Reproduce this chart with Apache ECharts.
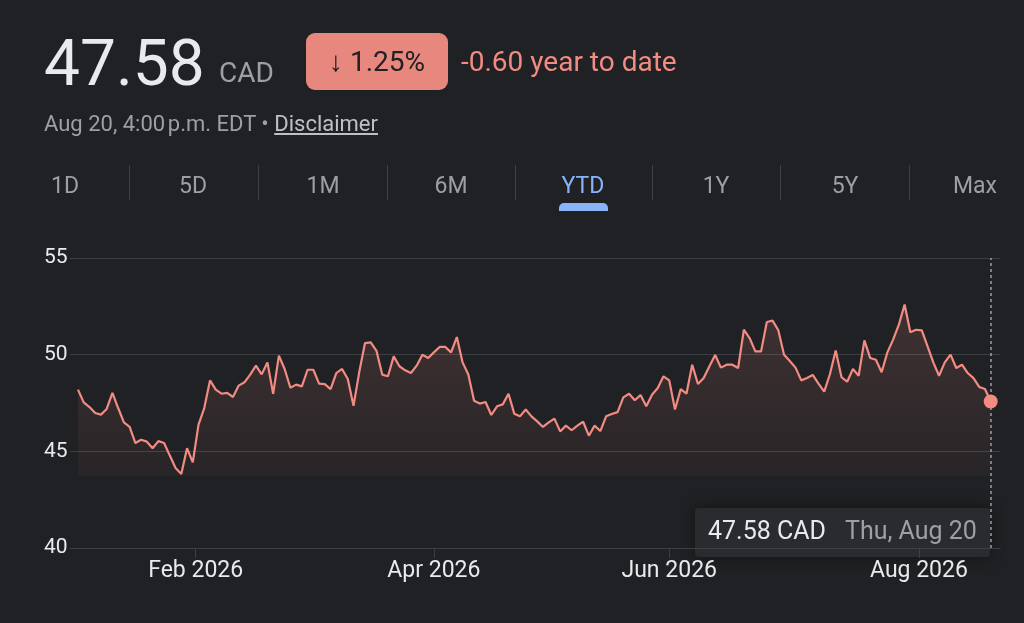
<!DOCTYPE html>
<html><head><meta charset="utf-8">
<script src="https://cdn.jsdelivr.net/npm/echarts@6/dist/echarts.min.js"></script>
<style>
html,body{margin:0;padding:0;background:#202124;width:1024px;height:623px;overflow:hidden;font-family:Roboto,"Noto Sans",sans-serif;}
#chart{position:absolute;left:0;top:0;width:1024px;height:623px;}
.t{position:absolute;white-space:nowrap;line-height:1;}
.tab{position:absolute;width:100px;text-align:center;font-size:23px;line-height:1;color:#9aa0a6;top:174px;}
.sep{position:absolute;top:165px;width:1px;height:35px;background:#3c4043;}
</style></head><body>
<div id="chart"></div>
<div class="t" style="left:44px;top:32px;font-size:64px;color:#e8eaed;">47.58</div>
<div class="t" style="left:219px;top:59px;font-size:28px;color:#9aa0a6;">CAD</div>
<div style="position:absolute;left:306px;top:33px;width:142px;height:57px;border-radius:9px;background:#e8877d;display:flex;align-items:center;justify-content:center;font-size:28px;line-height:1;color:#202124;">↓ 1.25%</div>
<div class="t" style="left:461px;top:48px;font-size:28px;color:#f28b82;">-0.60 year to date</div>
<div class="t" style="left:44px;top:113px;font-size:22px;color:#9aa0a6;">Aug 20, 4:00&#8239;p.m. EDT • <span style="text-decoration:underline;color:#bdc1c6;">Disclaimer</span></div>
<div id="tabs"></div>
<div style="position:absolute;left:559px;top:203px;width:49px;height:8px;background:#8ab4f8;border-radius:5px 5px 0 0;"></div>
<script>
// ---- data ----
const startDate = '2026-01-02';
const endDate = '2026-08-20';
const holidays = ['2026-01-01','2026-02-16','2026-04-03','2026-05-18','2026-07-01','2026-08-03'];
const prices = [
48.19,47.53,47.29,46.98,46.90,47.19,48.02,47.24,46.50,46.26,
45.43,45.60,45.50,45.16,45.53,45.43,44.78,44.14,43.83,45.16,
44.43,46.38,47.24,48.67,48.19,47.98,48.02,47.81,48.40,48.57,
48.97,49.43,48.98,49.60,47.98,49.95,49.26,48.29,48.45,48.36,
49.22,49.22,48.50,48.48,48.22,49.05,49.26,48.74,47.36,49.10,
50.60,50.64,50.20,48.97,48.88,49.91,49.40,49.19,49.05,49.43,
50.00,49.83,50.12,50.40,50.40,50.12,50.91,49.60,48.97,47.62,
47.47,47.55,46.88,47.33,47.43,47.98,46.95,46.81,47.16,46.81,
46.55,46.26,46.50,46.69,46.03,46.33,46.09,46.33,46.53,45.81,
46.33,46.05,46.81,46.93,47.03,47.79,47.98,47.64,47.91,47.33,
47.93,48.28,48.88,48.67,47.16,48.22,47.98,49.48,48.48,48.79,
49.40,49.98,49.33,49.48,49.48,49.31,51.29,50.86,50.17,50.17,
51.69,51.76,51.26,50.00,49.67,49.33,48.67,48.79,48.95,48.50,
48.09,49.00,50.21,48.84,48.60,49.26,48.91,50.74,49.83,49.74,
49.09,50.12,50.78,51.55,52.59,51.16,51.29,51.26,50.43,49.60,
48.91,49.60,50.00,49.31,49.48,49.05,48.79,48.33,48.22,47.58
];
const tickMonths = ['2026-02','2026-04','2026-06','2026-08'];
const tickLabels = ['Feb 2026','Apr 2026','Jun 2026','Aug 2026'];
const yTicks = [40,45,50,55];
const tabLabels = ['1D','5D','1M','6M','YTD','1Y','5Y','Max'];
const tabCenters = [65,193,323,451,583,716,845,975];
const tabSeps = [129,258,387,515,652,780,909];
const activeTab = 'YTD';

// ---- tabs ----
const tabsEl = document.getElementById('tabs');
tabLabels.forEach((l,i)=>{
  const d=document.createElement('div'); d.className='tab'; d.textContent=l;
  d.style.left=(tabCenters[i]-50)+'px';
  if(l===activeTab) d.style.color='#8ab4f8';
  tabsEl.appendChild(d);
});
tabSeps.forEach(x=>{const s=document.createElement('div'); s.className='sep'; s.style.left=x+'px'; tabsEl.appendChild(s);});

// ---- categories (trading days) ----
function tradingDays(s,e,hol){
  const out=[]; let d=new Date(s+'T12:00:00Z'); const end=new Date(e+'T12:00:00Z');
  while(d<=end){const wd=d.getUTCDay(); const iso=d.toISOString().slice(0,10);
    if(wd!==0&&wd!==6&&!hol.includes(iso)) out.push(iso);
    d=new Date(d.getTime()+86400000);}
  return out;
}
const dates = tradingDays(startDate,endDate,holidays);
const seriesData = prices.map((v,i)=>[i,v]);
const tickPos = tickMonths.map(m=>{const first=m+'-01'; const idx=dates.findIndex(d=>d>=first); return dates[idx]===first?idx:idx-0.5;});
const lastIdx = prices.length-1;
const lastPrice = prices[lastIdx];
const minPrice = Math.min(...prices);
const lastDateStr = new Date(dates[Math.min(lastIdx,dates.length-1)]+'T12:00:00Z').toLocaleDateString('en-US',{weekday:'short',month:'short',day:'numeric',timeZone:'UTC'});

const chart = echarts.init(document.getElementById('chart'),null,{renderer:'canvas'});
chart.setOption({
  backgroundColor:'#202124',
  animation:false,
  grid:{left:70,right:24,top:258,bottom:75},
  xAxis:{
    type:'value', min:-1.39, max:lastIdx+1.62,
    splitLine:{show:false},
    axisLine:{show:true,lineStyle:{color:'#3c4043',width:1}},
    axisTick:{show:true,customValues:tickPos,length:10,lineStyle:{color:'#3c4043'}},
    axisLabel:{customValues:tickPos,color:'#e8eaed',fontSize:23,fontFamily:'Roboto',margin:12,
      formatter:(v)=>{const k=tickPos.findIndex(p=>Math.abs(p-v)<1e-6); return k>=0?tickLabels[k]:'';}}
  },
  yAxis:{
    type:'value', min:yTicks[0], max:yTicks[yTicks.length-1], interval:5,
    axisLine:{show:false}, axisTick:{show:false},
    axisLabel:{color:'#e8eaed',fontSize:21,fontFamily:'Roboto',align:'left',margin:26},
    splitLine:{lineStyle:{color:'#3c4043',width:1}}
  },
  series:[{
    type:'line', data:seriesData, showSymbol:false, silent:true,
    lineStyle:{color:'#f28b82',width:2.2},
    areaStyle:{origin:minPrice-0.1,color:new echarts.graphic.LinearGradient(0,0,0,1,[
      {offset:0,color:'rgba(242,139,130,0.22)'},{offset:1,color:'rgba(242,139,130,0.05)'}])},
    markLine:{silent:true,symbol:['none','none'],label:{show:false},
      lineStyle:{color:'#9aa0a6',type:[3,3],width:1.5},
      data:[{xAxis:lastIdx}]},
    markPoint:{silent:true,symbol:'circle',symbolSize:14,itemStyle:{color:'#f28b82'},label:{show:false},
      data:[{coord:[lastIdx,lastPrice]}]}
  }],
  graphic:[{
    type:'group', left:695, top:508, z:100,
    children:[
      {type:'rect',shape:{x:0,y:0,width:295,height:49,r:4},
        style:{fill:'#2a2b2f',shadowBlur:14,shadowColor:'rgba(0,0,0,0.45)'}},
      {type:'text',x:13,y:25,style:{text:lastPrice.toFixed(2)+' CAD',fill:'#e8eaed',font:'25px Roboto',verticalAlign:'middle'}},
      {type:'text',x:150,y:25,style:{text:lastDateStr,fill:'#9aa0a6',font:'25px Roboto',verticalAlign:'middle'}}
    ]
  }]
});
</script>
</body></html>
